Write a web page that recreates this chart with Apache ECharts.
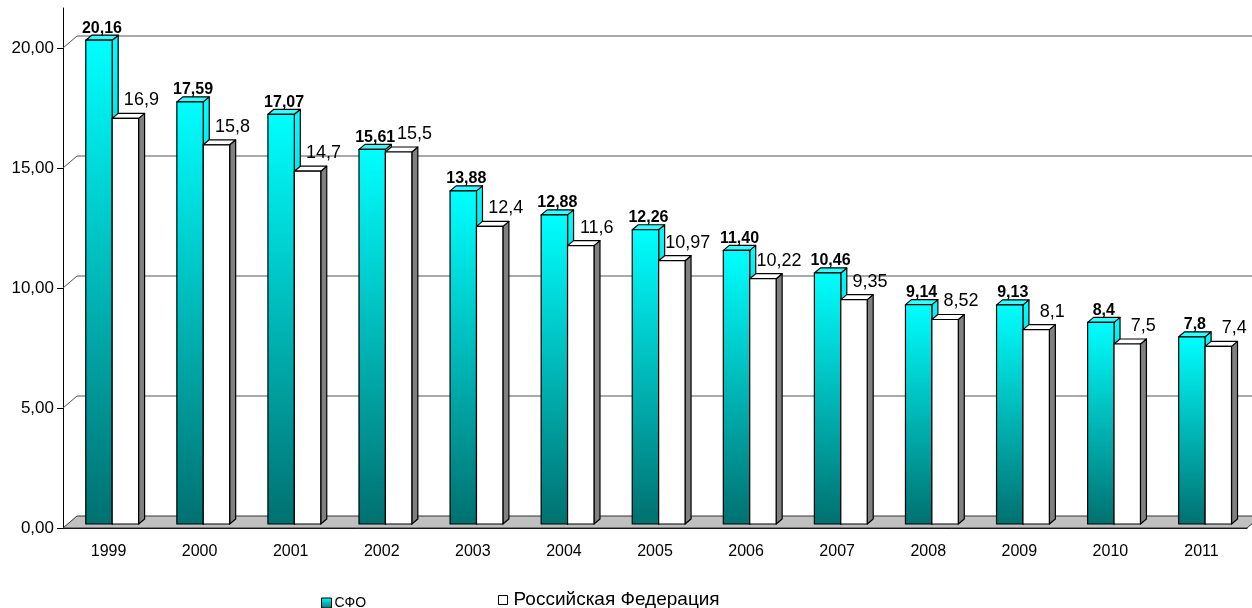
<!DOCTYPE html>
<html>
<head>
<meta charset="utf-8">
<script src="https://cdn.jsdelivr.net/npm/echarts@6/dist/echarts.min.js"></script>
<style>
  html, body { margin: 0; padding: 0; background: #fff; }
  #chart { width: 1252px; height: 608px; }
</style>
</head>
<body>
<div id="chart"></div>
<script>
const years = ['1999', '2000', '2001', '2002', '2003', '2004', '2005', '2006', '2007', '2008', '2009', '2010', '2011'];
// values as printed on the chart
const sfoLabels = ['20,16', '17,59', '17,07', '15,61', '13,88', '12,88', '12,26', '11,40', '10,46', '9,14', '9,13', '8,4', '7,8'];
const rfLabels = ['16,9', '15,8', '14,7', '15,5', '12,4', '11,6', '10,97', '10,22', '9,35', '8,52', '8,1', '7,5', '7,4'];
const yTicks = [0, 5, 10, 15, 20];

const toNum = s => parseFloat(s.replace(',', '.'));
const sfo = sfoLabels.map(toNum);
const rf = rfLabels.map(toNum);

const FONT = '"Liberation Sans", Arial, sans-serif';
const WALL_DX = 14, WALL_DY = -12;  // depth of the back wall / floor
const BAR_DX = 6, BAR_DY = -5;      // depth of one bar
const PLANE_DY = -4;                // bars stand a little behind the front edge
const BAR_W = 0.29;                 // bar width, share of the category band

function cyanGrad() {
  return new echarts.graphic.LinearGradient(0, 0, 0, 1, [
    { offset: 0, color: '#00ffff' },
    { offset: 1, color: '#007070' }
  ]);
}

// back wall gridlines and the grey floor
function wallItem(params, api) {
  const cs = params.coordSys;
  const v = api.value(1);
  const y = api.coord([0, v])[1];
  const x0 = cs.x, x1 = cs.x + cs.width;
  if (v === 0) {
    return {
      type: 'polygon',
      shape: { points: [[x0, y], [x1, y], [x1 + WALL_DX, y + WALL_DY], [x0 + WALL_DX, y + WALL_DY]] },
      style: { fill: '#c0c0c0', stroke: '#333', lineWidth: 1 }
    };
  }
  return {
    type: 'polyline',
    shape: { points: [[x0, y], [x0 + WALL_DX, y + WALL_DY], [x1 + WALL_DX + 20, y + WALL_DY]] },
    style: { fill: null, stroke: '#555', lineWidth: 1 }
  };
}

function barItem(offset, colors, labels, labelFont, ldx, ldy) {
  return function (params, api) {
    const i = api.value(0);
    const band = api.size([1, 0])[0];
    const p = api.coord([i, api.value(1)]);
    const b = api.coord([i, 0]);
    const bw = band * BAR_W;
    const x = p[0] - band / 2 + band * offset;
    const yt = p[1] + PLANE_DY, yb = b[1] + PLANE_DY;
    const line = { stroke: '#000', lineWidth: 1.2, lineJoin: 'round' };
    return {
      type: 'group',
      children: [
        {
          type: 'polygon',
          shape: { points: [[x + bw, yt], [x + bw + BAR_DX, yt + BAR_DY], [x + bw + BAR_DX, yb + BAR_DY], [x + bw, yb]] },
          style: Object.assign({ fill: colors.side() }, line)
        },
        {
          type: 'polygon',
          shape: { points: [[x, yt], [x + BAR_DX, yt + BAR_DY], [x + bw + BAR_DX, yt + BAR_DY], [x + bw, yt]] },
          style: Object.assign({ fill: colors.top }, line)
        },
        {
          type: 'rect',
          shape: { x: x, y: yt, width: bw, height: yb - yt },
          style: Object.assign({ fill: colors.front() }, line)
        },
        {
          type: 'text',
          z2: 10,
          style: {
            text: labels[params.dataIndex],
            x: x + bw / 2 + ldx,
            y: yt + ldy,
            align: 'center',
            verticalAlign: 'middle',
            font: labelFont,
            fill: '#000'
          }
        }
      ]
    };
  };
}

const chart = echarts.init(document.getElementById('chart'));
chart.setOption({
  animation: false,
  backgroundColor: '#fff',
  grid: { left: 63, right: 5, top: 8, bottom: 80, containLabel: false },
  legend: [
    {
      left: 321, top: 596, padding: 0, itemWidth: 10, itemHeight: 10, itemGap: 4,
      selectedMode: false,
      textStyle: { fontFamily: FONT, fontSize: 14, color: '#000', lineHeight: 14, padding: [0, 0, 0, -2] },
      data: [{ name: 'СФО', icon: 'rect', itemStyle: { color: cyanGrad(), borderColor: '#000', borderWidth: 1 } }]
    },
    {
      left: 498, top: 590, padding: 0, itemWidth: 9, itemHeight: 9,
      selectedMode: false,
      textStyle: { fontFamily: FONT, fontSize: 19, color: '#000', lineHeight: 20, padding: [0, 0, 0, 1] },
      data: [{ name: 'Российская Федерация', icon: 'rect', itemStyle: { color: '#fff', borderColor: '#000', borderWidth: 1 } }]
    }
  ],
  xAxis: {
    type: 'category',
    data: years,
    boundaryGap: true,
    axisLine: { lineStyle: { color: '#000', width: 1 } },
    axisTick: { length: 7, lineStyle: { color: '#000' } },
    axisLabel: { color: '#000', fontFamily: FONT, fontSize: 16, margin: 16 }
  },
  yAxis: {
    type: 'value',
    min: 0,
    max: 21.667,
    interval: 5,
    axisLine: { show: true, lineStyle: { color: '#000', width: 1 } },
    axisTick: { show: true, length: 6, customValues: yTicks, lineStyle: { color: '#000' } },
    axisLabel: {
      customValues: yTicks,
      color: '#000', fontFamily: FONT, fontSize: 17, margin: 9,
      formatter: v => v.toFixed(2).replace('.', ',')
    },
    splitLine: { show: false }
  },
  series: [
    {
      type: 'custom',
      name: 'wall',
      z: 1,
      silent: true,
      renderItem: wallItem,
      data: yTicks.map(v => [0, v])
    },
    {
      type: 'custom',
      name: 'СФО',
      z: 3,
      itemStyle: { color: '#00c0c0' },
      renderItem: barItem(0.25, { front: cyanGrad, side: cyanGrad, top: '#33ffff' },
        sfoLabels, 'bold 16px ' + FONT, 3, -12),
      data: sfo.map((v, i) => [i, v])
    },
    {
      type: 'custom',
      name: 'Российская Федерация',
      z: 4,
      itemStyle: { color: '#fff' },
      renderItem: barItem(0.25 + BAR_W, { front: () => '#fff', side: () => '#808080', top: '#fff' },
        rfLabels, '18px ' + FONT, 16, -18),
      data: rf.map((v, i) => [i, v])
    }
  ]
});
</script>
</body>
</html>
